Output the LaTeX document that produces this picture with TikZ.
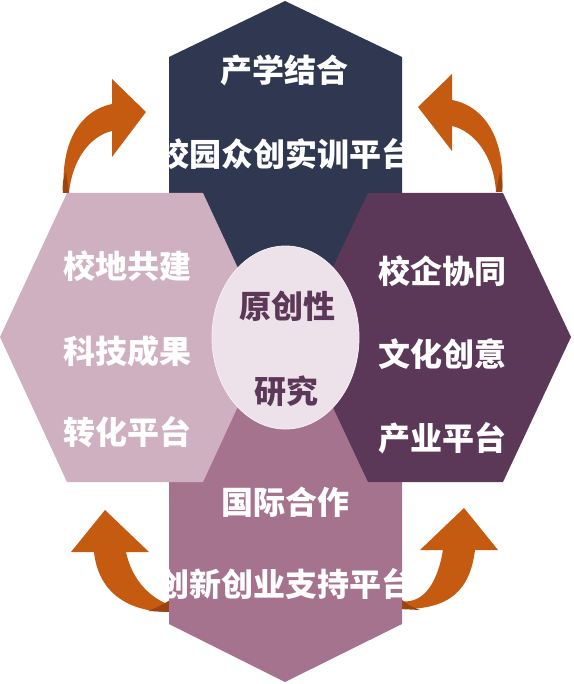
\documentclass[tikz,border=0pt]{standalone}
\usepackage{fontspec}
\newfontfamily\cjk{Noto Sans CJK SC}
\usetikzlibrary{positioning,shapes.geometric}
\definecolor{navy}{HTML}{2F3751}
\definecolor{rose}{HTML}{CFB0C0}
\definecolor{plum}{HTML}{5B3858}
\definecolor{mauve}{HTML}{A6738F}
\definecolor{blush}{HTML}{EEE2EA}
\definecolor{rust}{HTML}{C55A11}
\definecolor{rustd}{HTML}{9A4410}
\tikzset{
  lbl/.style={font=\cjk\bfseries\fontsize{32}{38}\selectfont,text=white,inner sep=0pt},
  corelbl/.style={lbl,text=plum},
  carrow/.style={fill=rust,draw=none},     % curved arrow body
  twist/.style={fill=rustd,draw=none},     % dark tail of an arrow
  core/.style={ellipse,fill=blush,draw=blush!50!white,line width=0.8pt,
    minimum width=147pt,minimum height=183pt,inner sep=0pt},
}
\begin{document}
\begin{tikzpicture}[x=1pt,y=-1pt]
  \useasboundingbox (0,0) rectangle (573,684);
  % curved arrows
  \fill[carrow] (64,193) .. controls (60,140) and (82,110) .. (112,104) -- (112,79)
    -- (146,112) -- (112,157) -- (112,131) .. controls (90,136) and (72,160) .. (69,193) -- cycle;
  \fill[carrow] (502,192) .. controls (506,138) and (484,106) .. (452,100) -- (452,74)
    -- (418,107) -- (452,151) -- (452,126) .. controls (474,131) and (494,156) .. (496,192) -- cycle;
  \fill[carrow] (94,552) .. controls (98,590) and (125,612) .. (170,612) -- (170,605)
    .. controls (150,598) and (132,580) .. (126,552) -- (149,552) -- (105,510) -- (71,552) -- cycle;
  \fill[carrow] (475,550) .. controls (470,590) and (450,610) .. (400,609) -- (400,601)
    .. controls (425,605) and (438,580) .. (443,550) -- (420,550) -- (464,508) -- (498,550) -- cycle;
  \fill[twist] (63,193) .. controls (62,185) and (63,178) .. (66,172) -- (69,193) -- cycle;
  \fill[twist] (502,192) .. controls (503,184) and (502,178) .. (500,172) -- (496,192) -- cycle;
  \fill[twist] (170,612) -- (148,611) .. controls (156,608) and (162,605) .. (170,600) -- cycle;
  \fill[twist] (400,609) -- (420,610) .. controls (412,607) and (406,604) .. (400,598) -- cycle;
  % hexagons
  \fill[navy] (285,1) -- (402,57) -- (402,300) -- (285,356) -- (169,300) -- (169,57) -- cycle;
  \fill[mauve] (285,682) -- (402,624) -- (402,376) -- (285,320) -- (169,376) -- (169,624) -- cycle;
  \fill[rose] (0,337) -- (67,193) -- (203,193) -- (270,337) -- (203,482) -- (67,482) -- cycle;
  \fill[plum] (300,337) -- (368,193) -- (503,193) -- (571,337) -- (503,482) -- (368,482) -- cycle;
  \node[core] (hub) at (285.5,337.5) {};
  % labels
  \node[lbl] (t1) at (284,70) {产学结合};
  \node[lbl] (t2) at (285,153.5) {校园众创实训平台};
  \node[lbl] (l1) at (127,266) {校地共建};
  \node[lbl] (l2) at (127,351) {科技成果};
  \node[lbl] (l3) at (127,432) {转化平台};
  \node[lbl] (r1) at (442.5,271.5) {校企协同};
  \node[lbl] (r2) at (442.5,354) {文化创意};
  \node[lbl] (r3) at (442.5,438) {产业平台};
  \node[lbl] (b1) at (285,502) {国际合作};
  \node[lbl] (b2) at (285,584) {创新创业支持平台};
  \node[corelbl] (c1) at (287.5,306) {原创性};
  \node[corelbl] (c2) at (286.5,391) {研究};
\end{tikzpicture}
\end{document}
